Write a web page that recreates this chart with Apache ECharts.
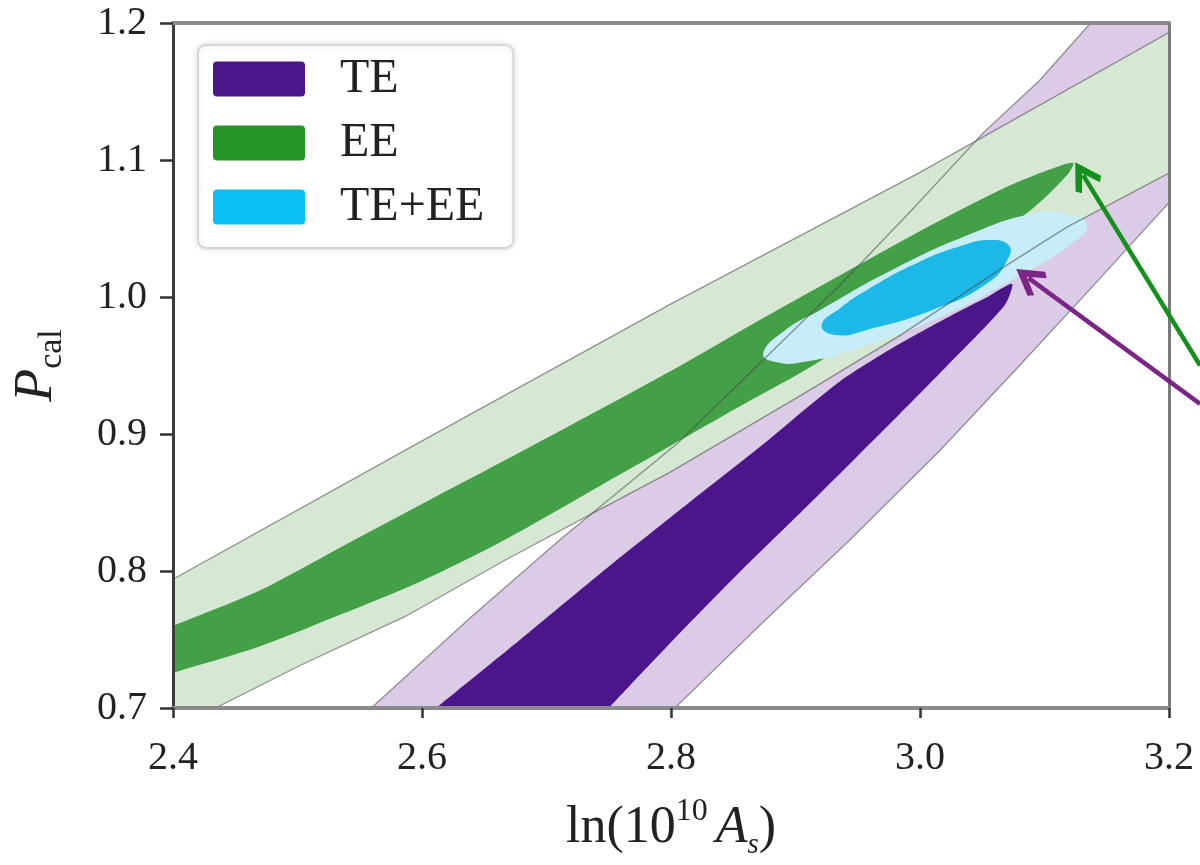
<!DOCTYPE html>
<html>
<head>
<meta charset="utf-8">
<script src="https://cdn.jsdelivr.net/npm/echarts@6/dist/echarts.min.js"></script>
<style>
  html, body { margin: 0; padding: 0; background: #fff; }
  #chart { width: 1200px; height: 865px; }
</style>
</head>
<body>
<div id="chart"></div>
<script>
// axis ticks
const xTicks = [2.4, 2.6, 2.8, 3.0, 3.2]
const xTickLabels = ['2.4', '2.6', '2.8', '3.0', '3.2']
const yTicks = [0.7, 0.8, 0.9, 1.0, 1.1, 1.2]
const yTickLabels = ['0.7', '0.8', '0.9', '1.0', '1.1', '1.2']

// contour outlines, [ln(10^10 As), P_cal]
// EE 2 sigma (pale green band)
const ee2 = [
  [2.36, 0.774], [2.4, 0.794], [2.6, 0.895], [2.8, 0.995], [3.0, 1.091], [3.2, 1.193],
  [3.24, 1.213], [3.24, 1.110], [3.2, 1.0905], [3.118, 1.051], [3.064, 1.020],
  [2.984, 0.972], [2.904, 0.928], [2.799, 0.872], [2.743, 0.845], [2.667, 0.808],
  [2.587, 0.767], [2.502, 0.731], [2.432, 0.699], [2.40, 0.684], [2.36, 0.66]
]
// EE 1 sigma (green)
const ee1 = [
  [2.35, 0.741], [2.4, 0.760], [2.47, 0.786], [2.534, 0.817], [2.598, 0.848],
  [2.667, 0.881], [2.735, 0.914], [2.802, 0.947], [2.871, 0.983], [2.944, 1.020],
  [3.008, 1.052], [3.064, 1.078], [3.104, 1.093], [3.123, 1.098], [3.119, 1.090],
  [3.091, 1.065], [3.056, 1.042], [3.024, 1.021], [2.984, 0.998], [2.944, 0.969],
  [2.914, 0.950], [2.855, 0.920], [2.799, 0.891], [2.735, 0.858], [2.667, 0.823],
  [2.598, 0.792], [2.534, 0.768], [2.47, 0.745], [2.4, 0.7255], [2.35, 0.711]
]
// TE 2 sigma (lilac band)
const te2 = [
  [2.542, 0.684], [2.558, 0.699], [2.639, 0.766], [2.711, 0.823], [2.805, 0.893],
  [2.874, 0.954], [2.936, 1.009], [2.994, 1.064], [3.051, 1.120], [3.096, 1.158],
  [3.137, 1.200], [3.153, 1.217], [3.23, 1.217], [3.23, 1.080], [3.217, 1.076],
  [3.2, 1.069], [3.145, 1.014], [3.080, 0.950], [3.016, 0.888], [2.944, 0.823],
  [2.872, 0.761], [2.802, 0.699], [2.787, 0.684]
]
// TE 1 sigma (purple)
const te1 = [
  [2.578, 0.675], [2.610, 0.699], [2.679, 0.750], [2.743, 0.798], [2.805, 0.843],
  [2.872, 0.891], [2.935, 0.938], [2.984, 0.966], [3.024, 0.986], [3.056, 1.001],
  [3.074, 1.0095], [3.068, 0.994], [3.022, 0.950], [2.984, 0.915], [2.909, 0.847],
  [2.855, 0.799], [2.799, 0.747], [2.749, 0.699], [2.724, 0.675]
]
// TE+EE 2 sigma (pale cyan)
const both2 = [
  [2.874, 0.959], [2.892, 0.976], [2.920, 0.9905], [2.974, 1.018], [3.038, 1.045],
  [3.091, 1.061], [3.118, 1.0605], [3.134, 1.053], [3.124, 1.0405], [3.078, 1.0145],
  [3.010, 0.983], [2.952, 0.963], [2.906, 0.9525], [2.884, 0.9525]
]
// TE+EE 1 sigma (cyan)
const both1 = [
  [2.921, 0.9795], [2.936, 0.992], [2.957, 1.005], [2.998, 1.025], [3.032, 1.037],
  [3.056, 1.0416], [3.071, 1.038], [3.071, 1.0285], [3.054, 1.010], [3.010, 0.9905],
  [2.957, 0.976], [2.932, 0.9722]
]
// annotation arrows: [tail, head]
const greenArrow = [[3.225, 0.950], [3.131, 1.089]]
const purpleArrow = [[3.225, 0.922], [3.087, 1.014]]

const serif = 'Liberation Serif'

// filled contour as one polygon
function region(name, pts, fill, smooth, stroke) {
  return {
    type: 'custom',
    name: name,
    coordinateSystem: 'cartesian2d',
    clip: true,
    silent: true,
    data: pts,
    itemStyle: { color: fill || '#000' },
    renderItem(params, api) {
      if (params.dataIndex !== 0) return null
      return {
        type: 'polygon',
        shape: { points: pts.map(p => api.coord(p)), smooth: smooth },
        style: {
          fill: fill || 'none',
          stroke: stroke || 'none',
          lineWidth: stroke ? 1.3 : 0
        }
      }
    }
  }
}

const chart = echarts.init(document.getElementById('chart'))

const edge = 'rgba(70,70,70,0.55)'
const arrowHead = 'path://M0,0 L8,10 L5.6,12 L0,5.2 L-5.6,12 L-8,10 Z'
const legendIcon = 'path://M4,0 H88 Q92,0 92,4 V31 Q92,35 88,35 H4 Q0,35 0,31 V4 Q0,0 4,0 Z'

const option = {
  backgroundColor: '#fff',
  animation: false,
  grid: { left: 173, right: 31, top: 23, bottom: 157 },
  legend: {
    orient: 'vertical',
    left: 198,
    top: 45,
    padding: [10, 29, 17, 15],
    itemWidth: 92,
    itemHeight: 35,
    itemGap: 16,
    icon: legendIcon,
    selectedMode: false,
    backgroundColor: '#fff',
    borderColor: '#d6d6d6',
    borderWidth: 2,
    borderRadius: 8,
    shadowBlur: 6,
    shadowColor: 'rgba(0,0,0,0.12)',
    textStyle: { fontFamily: serif, fontSize: 48, color: '#222', padding: [0, 0, 0, 30] },
    data: [
      { name: 'TE', itemStyle: { color: '#4a168a' } },
      { name: 'EE', itemStyle: { color: '#25952a' } },
      { name: 'TE+EE', itemStyle: { color: '#0cbff5' } }
    ]
  },
  xAxis: [{
    type: 'value',
    min: xTicks[0],
    max: xTicks[xTicks.length - 1],
    interval: 0.2,
    z: 10,
    name: '{n|ln(10}{sup|10}{a|A}{sub|s}{n|)}',
    nameLocation: 'middle',
    nameGap: 88,
    nameTextStyle: {
      rich: {
        n: { fontFamily: serif, fontSize: 52, color: '#222', lineHeight: 64 },
        sup: { fontFamily: serif, fontSize: 32, color: '#222', verticalAlign: 'top', lineHeight: 64, padding: [0, 8, 0, 0] },
        a: { fontFamily: serif, fontSize: 52, fontStyle: 'italic', color: '#222', lineHeight: 64 },
        sub: { fontFamily: serif, fontSize: 29, fontStyle: 'italic', color: '#222', verticalAlign: 'bottom', lineHeight: 64 }
      }
    },
    axisLine: { lineStyle: { color: '#8a8a8a', width: 4 } },
    axisTick: { length: 10, lineStyle: { color: '#333', width: 2.5 } },
    axisLabel: {
      fontFamily: serif, fontSize: 40, color: '#222', margin: 30,
      formatter: v => xTickLabels[xTicks.findIndex(t => Math.abs(t - v) < 1e-6)]
    },
    splitLine: { show: false }
  }, {
    type: 'value',
    position: 'top',
    min: xTicks[0],
    max: xTicks[xTicks.length - 1],
    z: 10,
    axisLine: { lineStyle: { color: '#8a8a8a', width: 4 } },
    axisTick: { show: false },
    axisLabel: { show: false },
    splitLine: { show: false }
  }],
  yAxis: [{
    type: 'value',
    min: yTicks[0],
    max: yTicks[yTicks.length - 1],
    interval: 0.1,
    z: 10,
    name: '{p|P}{sub|cal}',
    nameLocation: 'middle',
    nameRotate: 90,
    nameGap: 104,
    nameTextStyle: {
      rich: {
        p: { fontFamily: serif, fontSize: 54, fontStyle: 'italic', color: '#222', lineHeight: 64 },
        sub: { fontFamily: serif, fontSize: 34, color: '#222', verticalAlign: 'bottom', lineHeight: 64 }
      }
    },
    axisLine: { lineStyle: { color: '#3c3c3c', width: 3 } },
    axisTick: { length: 13, lineStyle: { color: '#333', width: 2.5 } },
    axisLabel: {
      fontFamily: serif, fontSize: 40, color: '#222', margin: 26,
      formatter: v => yTickLabels[yTicks.findIndex(t => Math.abs(t - v) < 1e-6)]
    },
    splitLine: { show: false }
  }, {
    type: 'value',
    position: 'right',
    min: yTicks[0],
    max: yTicks[yTicks.length - 1],
    z: 10,
    axisLine: { lineStyle: { color: '#7a7a7a', width: 3 } },
    axisTick: { show: false },
    axisLabel: { show: false },
    splitLine: { show: false }
  }],
  series: [
    region('TE 2sigma', te2, '#dccbe7', 0),
    region('EE 2sigma', ee2, '#d6e8d3', 0),
    region('TE', te1, '#4a168a', 0.25),
    region('EE', ee1, '#43a047', 0.3),
    region('TE+EE 2sigma', both2, '#c6edf8', 0.5),
    region('TE+EE', both1, '#1cb8e8', 0.5),
    region('TE 2sigma edge', te2, null, 0, edge),
    region('EE 2sigma edge', ee2, null, 0, edge),
    {
      type: 'lines',
      name: 'arrows',
      coordinateSystem: 'cartesian2d',
      clip: false,
      silent: true,
      z: 12,
      symbol: ['none', arrowHead],
      symbolSize: [34, 30],
      lineStyle: { width: 4.5, opacity: 1 },
      data: [
        { coords: greenArrow, lineStyle: { color: '#14901c', width: 4.5 } },
        { coords: purpleArrow, lineStyle: { color: '#7b2585', width: 4.5 } }
      ]
    }
  ]
}

chart.setOption(option)
</script>
</body>
</html>
